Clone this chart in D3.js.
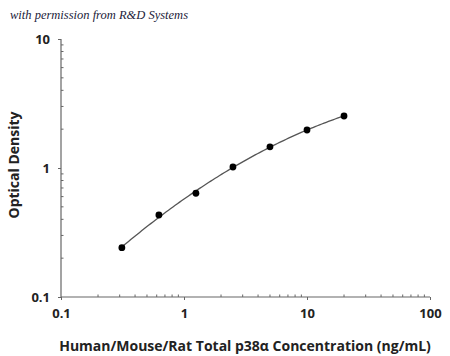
<!DOCTYPE html>
<html><head><meta charset="utf-8">
<script src="https://cdn.jsdelivr.net/npm/d3@7"></script>
<style>
html,body{margin:0;padding:0;background:#fff;}
text{font-family:"Open Sans",sans-serif;}
</style></head>
<body>
<svg id="c" width="450" height="356"></svg>
<script>
const concentrations = [0.3125, 0.625, 1.25, 2.5, 5, 10, 20];
const odValues = [0.241, 0.432, 0.637, 1.018, 1.46, 1.97, 2.53];
const xTickLabels = ["0.1", "1", "10", "100"];
const yTickLabels = ["0.1", "1", "10"];
const xTitle = "Human/Mouse/Rat Total p38\u03b1 Concentration (ng/mL)";
const yTitle = "Optical Density";
const credit = "with permission from R&D Systems";

const svg = d3.select("#c");
const x = d3.scaleLog().domain([0.1, 100]).range([61, 430]);
const y = d3.scaleLog().domain([0.1, 10]).range([297, 39]);
const axisColor = "#666";

// credit text
svg.append("text").attr("x", 10).attr("y", 19)
  .style("font-family", "'Liberation Serif', serif").style("font-style", "italic")
  .style("font-size", "12.5px").attr("fill", "#1c1c3a").text(credit);

// minor ticks values
const minorX = [], minorY = [];
[0.1, 1, 10].forEach(d => { for (let k = 2; k <= 9; k++) minorX.push(d * k); });
[0.1, 1].forEach(d => { for (let k = 2; k <= 9; k++) minorY.push(d * k); });

// x axis
const gx = svg.append("g").attr("transform", "translate(0,297)");
gx.call(d3.axisBottom(x).tickValues(xTickLabels.map(Number)).tickFormat((d, i) => xTickLabels[i]).tickSize(3).tickPadding(9));
gx.append("g").selectAll("line").data(minorX).join("line")
  .attr("x1", d => x(d)).attr("x2", d => x(d)).attr("y1", 0).attr("y2", -2.5)
  .attr("stroke", axisColor);
// y axis
const gy = svg.append("g").attr("transform", "translate(61,0)");
gy.call(d3.axisLeft(y).tickValues(yTickLabels.map(Number)).tickFormat((d, i) => yTickLabels[i]).tickSize(3).tickPadding(8));
gy.append("g").selectAll("line").data(minorY).join("line")
  .attr("y1", d => y(d)).attr("y2", d => y(d)).attr("x1", 0).attr("x2", 2.5)
  .attr("stroke", axisColor);

[gx, gy].forEach(g => {
  g.select(".domain").attr("stroke", axisColor).attr("stroke-width", 1.2);
  g.selectAll(".tick line").attr("stroke", axisColor);
  g.selectAll(".tick text").attr("fill", "#222").style("font-size", "13px").style("font-weight", "bold")
   .style("font-family", "'Open Sans',sans-serif");
});
gx.select(".domain").attr("d", "M61,0H430");
gy.select(".domain").attr("d", "M0,297V39");

// titles
svg.append("text").attr("x", 245).attr("y", 351).attr("text-anchor", "middle")
  .style("font-size", "14px").style("font-weight", "bold").attr("fill", "#222").text(xTitle);
svg.append("text").attr("transform", "translate(19,165) rotate(-90)").attr("text-anchor", "middle")
  .style("font-size", "14px").style("font-weight", "bold").attr("fill", "#222").text(yTitle);

// fitted curve: least-squares quadratic in log-log space through the data
const pts = concentrations.map((c, i) => [c, odValues[i]]);
const lx = concentrations.map(Math.log10), ly = odValues.map(Math.log10);
function fitQuad(xs, ys) {
  const S = [0,0,0,0,0], T = [0,0,0];
  xs.forEach((xv, i) => {
    for (let k = 0; k < 5; k++) S[k] += Math.pow(xv, k);
    for (let k = 0; k < 3; k++) T[k] += ys[i] * Math.pow(xv, k);
  });
  const A = [[S[0],S[1],S[2],T[0]],[S[1],S[2],S[3],T[1]],[S[2],S[3],S[4],T[2]]];
  for (let i = 0; i < 3; i++) {
    for (let j = i + 1; j < 3; j++) {
      const f = A[j][i] / A[i][i];
      for (let k = i; k < 4; k++) A[j][k] -= f * A[i][k];
    }
  }
  const c = [0,0,0];
  for (let i = 2; i >= 0; i--) {
    let s = A[i][3];
    for (let k = i + 1; k < 3; k++) s -= A[i][k] * c[k];
    c[i] = s / A[i][i];
  }
  return c;
}
const coef = fitQuad(lx, ly);
const lx0 = lx[0], lx1 = lx[lx.length - 1];
const curvePts = d3.range(0, 101).map(i => {
  const t = lx0 + (lx1 - lx0) * i / 100;
  return [Math.pow(10, t), Math.pow(10, coef[0] + coef[1] * t + coef[2] * t * t)];
});
svg.append("path").datum(curvePts)
  .attr("d", d3.line().x(d => x(d[0])).y(d => y(d[1])))
  .attr("fill", "none").attr("stroke", "#555").attr("stroke-width", 1.3);
svg.append("g").selectAll("circle").data(pts).join("circle")
  .attr("cx", d => x(d[0])).attr("cy", d => y(d[1])).attr("r", 3.4).attr("fill", "#000");
</script>
</body></html>
